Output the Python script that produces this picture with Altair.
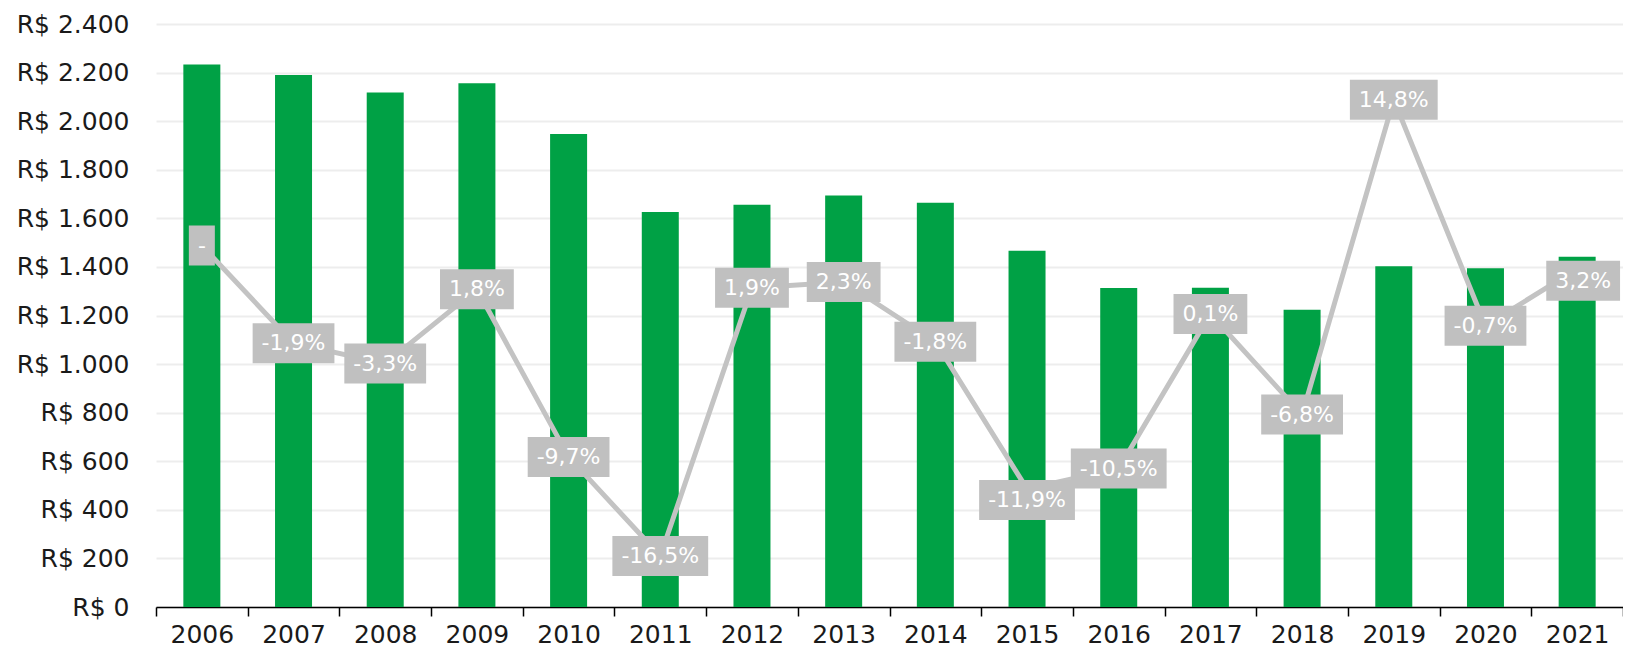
import altair as alt
import pandas as pd

years = [str(y) for y in range(2006, 2022)]
values = [2233, 2190, 2118, 2156, 1947, 1626, 1656, 1694, 1664, 1467, 1313, 1314, 1224, 1403, 1395, 1442]
pct = [4.8, -1.9, -3.3, 1.8, -9.7, -16.5, 1.9, 2.3, -1.8, -11.9, -10.5, 0.1, -6.8, 14.8, -0.7, 3.2]
pct_labels = ["-", "-1,9%", "-3,3%", "1,8%", "-9,7%", "-16,5%", "1,9%", "2,3%", "-1,8%",
              "-11,9%", "-10,5%", "0,1%", "-6,8%", "14,8%", "-0,7%", "3,2%"]
y_ticks = list(range(0, 2401, 200))

FONT = "DejaVu Sans"
LABEL_FS = 22
CW = {"-": 0.361, ",": 0.318, "%": 0.95}
# label nudges (x, y in px) applied to a few data labels, as in the original
NUDGES = {"2015": (0, 11), "2021": (6, 12)}


def box_path(label, fs=LABEL_FS, padx=9, h=40):
    w = sum(CW.get(c, 0.636) for c in label) * fs + 2 * padx
    hw, hh = w / 2, h / 2
    return f"M{-hw:.1f},{-hh} L{hw:.1f},{-hh} L{hw:.1f},{hh} L{-hw:.1f},{hh} Z"


df = pd.DataFrame({
    "year": years,
    "value": values,
    "pct": pct,
    "label": pct_labels,
    "path": [box_path(l) for l in pct_labels],
})

x = alt.X(
    "year:N", sort=years,
    scale=alt.Scale(paddingInner=0, paddingOuter=0),
    axis=alt.Axis(title=None, labelAngle=0, tickBand="extent", tickSize=9,
                  tickColor="#000000", tickWidth=1.5, domainColor="#000000",
                  domainWidth=1.5, labelFontSize=25, labelPadding=6,
                  labelColor="#1a1a1a", grid=False, labelFont=FONT),
)

bars = alt.Chart(df).mark_bar(size=37, color="#00A145").encode(
    x=x,
    y=alt.Y("value:Q", scale=alt.Scale(domain=[0, 2400], nice=False),
            axis=alt.Axis(values=y_ticks, title=None, ticks=False, tickSize=0,
                          domain=False,
                          labelExpr="'R$ ' + replace(format(datum.value, ',.0f'), ',', '.')",
                          labelFontSize=25, labelPadding=27, labelColor="#1a1a1a",
                          labelFont=FONT, gridColor="#EDEDED", gridWidth=2)),
)

pscale = alt.Scale(domain=[-20, 20], nice=False)
yp = alt.Y("pct:Q", scale=pscale, axis=None)

line = alt.Chart(df).mark_line(color="#C3C3C3", strokeWidth=5).encode(x=x, y=yp)

label_layers = []
plain = [y for y in years if y not in NUDGES]
groups = [(plain, 0, 0)] + [([y], dx, dy) for y, (dx, dy) in NUDGES.items()]
for yrs, dx, dy in groups:
    base = alt.Chart(df).transform_filter(alt.FieldOneOfPredicate(field="year", oneOf=yrs))
    label_layers.append(base.mark_point(filled=True, size=4, color="#C0C0C0", opacity=1,
                                        strokeWidth=0, xOffset=dx, yOffset=dy).encode(
        x=x, y=yp, shape=alt.Shape("path:N", scale=None, legend=None)))
    label_layers.append(base.mark_text(color="white", fontSize=LABEL_FS, font=FONT,
                                       baseline="middle", align="center",
                                       xOffset=dx, yOffset=dy).encode(
        x=x, y=yp, text="label:N"))

chart = alt.layer(bars, alt.layer(line, *label_layers)).resolve_scale(
    y="independent"
).properties(
    width=1467, height=583, autosize="none",
    padding={"left": 148, "top": 16, "right": 0, "bottom": 44},
    background="white",
).configure_view(stroke=None)

chart.save("out.html", embed_options={"renderer": "svg", "actions": False})
